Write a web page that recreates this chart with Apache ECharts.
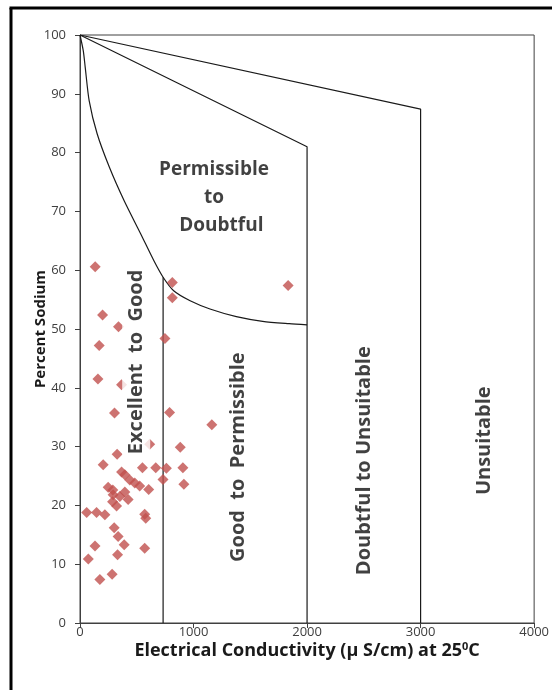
<!DOCTYPE html>
<html>
<head>
<meta charset="utf-8">
<script src="https://cdn.jsdelivr.net/npm/echarts@6/dist/echarts.min.js"></script>
<style>
html,body{margin:0;padding:0;background:#fff;}
#chart{width:552px;height:690px;}
</style>
</head>
<body>
<div id="chart"></div>
<script>
// Sample points: Electrical Conductivity (µS/cm) and Percent Sodium
const sampleEC = [134, 813, 813, 199, 339, 748, 169, 158, 366, 304, 789, 1161, 883, 614, 327,
  204, 550, 667, 761, 906, 366, 395, 731, 915, 439, 482, 526, 605, 248, 292, 351, 424, 287,
  322, 59, 146, 219, 570, 579, 301, 336, 132, 389, 570, 331, 73, 283, 175, 1833, 289, 395];
const sampleNa = [60.6, 57.9, 55.3, 52.4, 50.4, 48.4, 47.2, 41.5, 40.5, 35.7, 35.8, 33.7, 29.9, 30.4, 28.7,
  26.9, 26.4, 26.4, 26.3, 26.4, 25.7, 25.2, 24.4, 23.6, 24.3, 23.8, 23.3, 22.7, 23.1, 21.8, 21.5, 21.0, 20.6,
  19.9, 18.8, 18.8, 18.4, 18.5, 17.8, 16.2, 14.7, 13.1, 13.3, 12.7, 11.6, 10.9, 8.3, 7.4, 57.4, 22.6, 22.3];

// Wilcox diagram boundaries
const curveEC = [0, 29, 46, 81, 151, 259, 389, 534, 651, 732, 825, 970, 1145, 1377, 1609, 1842, 2000];
const curveNa = [100, 97.3, 94.5, 88.8, 83.2, 77.5, 71.8, 66.2, 61.6, 58.8, 56.5, 54.8, 53.4, 52.1, 51.3, 50.9, 50.7];
const line2000EC = [0, 2000, 2000];
const line2000Na = [100, 81, 0];
const line3000EC = [0, 3000, 3000];
const line3000Na = [100, 87.4, 0];
const lineGoodEC = [732, 732];
const lineGoodNa = [58.8, 0];

// Zone labels
const zoneNames = ['Permissible\nto\n   Doubtful', 'Excellent  to  Good', 'Good  to  Permissible', 'Doubtful to Unsuitable', 'Unsuitable'];
const zoneEC = [1180, 495, 1398, 2508, 3560];
const zoneNa = [72.3, 44.4, 28.2, 27.6, 31.0];
const zoneRotate = [0, 90, 90, 90, 90];
const zoneFont = [19, 20, 20, 20, 20];

// Axis ticks
const xTicks = [0, 1000, 2000, 3000, 4000];
const yTicks = [0, 10, 20, 30, 40, 50, 60, 70, 80, 90, 100];

const zip = (a, b) => a.map((v, i) => [v, b[i]]);
const FONT = 'Open Sans';
const lineStyle = { color: '#1a1a1a', width: 1.2 };

const chart = echarts.init(document.getElementById('chart'));
chart.setOption({
  animation: false,
  backgroundColor: '#fff',
  grid: { left: 80, top: 35, width: 459, height: 588, show: true, borderColor: '#404040', borderWidth: 1, containLabel: false },
  xAxis: {
    type: 'value', min: xTicks[0], max: xTicks[xTicks.length - 1], interval: 1000,
    name: 'Electrical Conductivity (µ S/cm) at 25{sup|0}C',
    nameLocation: 'middle', nameGap: 18, nameMoveOverlap: false,
    nameTextStyle: { fontFamily: FONT, fontWeight: 'bold', fontSize: 18, color: '#1a1a1a',
      rich: { sup: { fontFamily: FONT, fontWeight: 'bold', fontSize: 11, color: '#1a1a1a', verticalAlign: 'top', padding: [0, 0, 9, 0] } } },
    axisLine: { lineStyle: { color: '#404040' } },
    axisTick: { show: true, inside: false, length: 5, lineStyle: { color: '#404040' } },
    axisLabel: { fontFamily: FONT, fontSize: 13, color: '#404040', margin: 3, formatter: v => String(v) },
    splitLine: { show: false }
  },
  yAxis: {
    type: 'value', min: yTicks[0], max: yTicks[yTicks.length - 1], interval: 10,
    name: 'Percent Sodium', nameLocation: 'middle', nameGap: 32, nameRotate: 90, nameMoveOverlap: false,
    nameTextStyle: { fontFamily: FONT, fontWeight: 'bold', fontSize: 15, color: '#1a1a1a' },
    axisLine: { show: true, lineStyle: { color: '#404040' } },
    axisTick: { show: true, inside: false, length: 5, lineStyle: { color: '#404040' } },
    axisLabel: { fontFamily: FONT, fontSize: 13, color: '#404040', margin: 14 },
    splitLine: { show: false }
  },
  graphic: [
    { type: 'line', shape: { x1: 11, y1: 8, x2: 11, y2: 690 }, style: { stroke: '#000', lineWidth: 3 } },
    { type: 'line', shape: { x1: 9.5, y1: 8, x2: 552, y2: 8 }, style: { stroke: '#000', lineWidth: 3 } }
  ],
  series: [
    { type: 'line', data: zip(curveEC, curveNa), smooth: 0.25, showSymbol: false, lineStyle, z: 3 },
    { type: 'line', data: zip(line2000EC, line2000Na), showSymbol: false, lineStyle, z: 3 },
    { type: 'line', data: zip(line3000EC, line3000Na), showSymbol: false, lineStyle, z: 3 },
    { type: 'line', data: zip(lineGoodEC, lineGoodNa), showSymbol: false, lineStyle, z: 3 },
    {
      type: 'scatter', data: zip(sampleEC, sampleNa), symbol: 'diamond', symbolSize: 11,
      itemStyle: { color: '#C0504D' }, z: 4
    },
    {
      type: 'scatter', symbolSize: 0, z: 10, silent: true,
      data: zoneNames.map((n, i) => ({
        value: [zoneEC[i], zoneNa[i]],
        label: { show: true, formatter: n, rotate: zoneRotate[i], position: 'inside',
          align: 'center', verticalAlign: 'middle', lineHeight: 28,
          fontFamily: FONT, fontWeight: 'bold', fontSize: zoneFont[i], color: '#111',
          backgroundColor: i === 1 ? '#fff' : 'transparent', padding: [0, 1] }
      }))
    }
  ]
});
</script>
</body>
</html>
